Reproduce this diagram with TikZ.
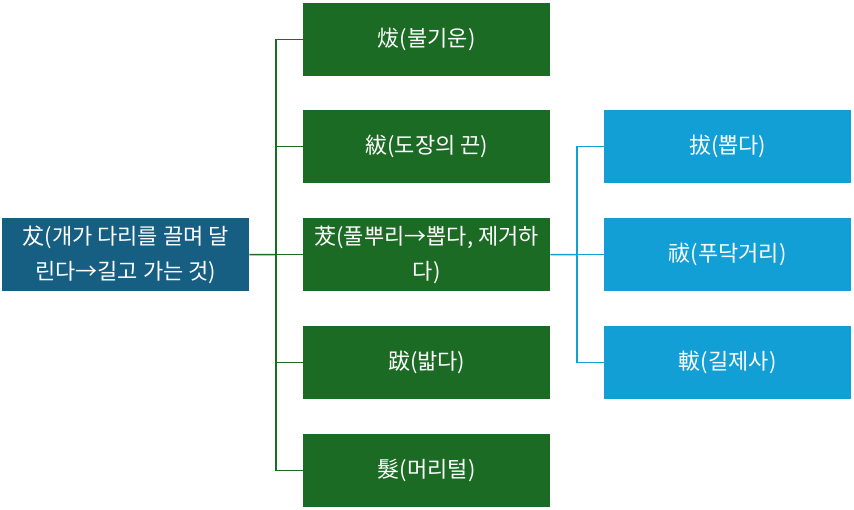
\documentclass[tikz,border=0pt]{standalone}
\usepackage{fontspec}
\setmainfont{Noto Sans CJK KR}
\definecolor{rootc}{RGB}{23,94,131}
\definecolor{greenc}{RGB}{27,107,36}
\definecolor{bluec}{RGB}{17,159,214}
\begin{document}
\begin{tikzpicture}[x=1pt,y=-1pt,
  box/.style={minimum width=247pt,minimum height=73pt,inner sep=0pt,text=white,font=\fontsize{22}{35}\selectfont,align=center,anchor=north west},
  rootbox/.style={box,fill=rootc},
  gbox/.style={box,fill=greenc},
  bbox/.style={box,fill=bluec},
  gline/.style={draw=greenc,line width=1.5pt},
  bline/.style={draw=bluec,line width=1.5pt}]
\useasboundingbox (0,0) rectangle (854,510);
\node[rootbox] (r) at (2,218) {犮(개가 다리를 끌며 달\\린다→길고 가는 것)};
\node[gbox] (g1) at (303,3) {炦(불기운)};
\node[gbox] (g2) at (303,110) {紱(도장의 끈)};
\node[gbox] (g3) at (303,218) {茇(풀뿌리→뽑다, 제거하\\다)};
\node[gbox] (g4) at (303,326) {跋(밟다)};
\node[gbox] (g5) at (303,434) {髮(머리털)};
\node[bbox] (b1) at (604,110) {拔(뽑다)};
\node[bbox] (b2) at (604,218) {祓(푸닥거리)};
\node[bbox] (b3) at (604,326) {軷(길제사)};
\coordinate (gj) at (276,254.5);
\coordinate (bj) at (577,254.5);
\draw[gline] (r.east) -- (gj);
\foreach \n in {g1,g2,g3,g4,g5}{\draw[gline] (gj) |- (\n.west);}
\draw[bline] (g3.east) -- (bj);
\foreach \n in {b1,b2,b3}{\draw[bline] (bj) |- (\n.west);}
\end{tikzpicture}
\end{document}
